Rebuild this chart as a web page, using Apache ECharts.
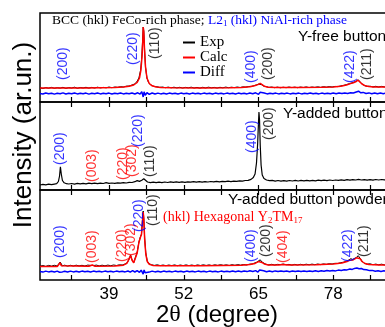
<!DOCTYPE html>
<html>
<head>
<meta charset="utf-8">
<script src="https://cdn.jsdelivr.net/npm/echarts@6.0.0/dist/echarts.min.js"></script>
<style>html,body{margin:0;background:#fff}#chart{width:385px;height:327px}</style>
</head>
<body>
<div id="chart"></div>
<script>
// 2-theta axis
const thetaMin = 27, thetaMax = 91;
const tickValues = [32.5, 39, 45.5, 52, 58.5, 65, 71.5, 78, 84.5, 91];
const tickLabels = [39, 52, 65, 78, 91];

// panel 1: Y-free button (Rietveld fit)
const p1Exp = [[27,14.2],[27.5,13.5],[28,14.4],[28.5,13.8],[29,14.6],[29.5,13.7],[30,14.3],[30.5,13.9],[31,14.7],[31.5,13.6],[32,14.4],[32.5,14.0],[33,14.8],[33.5,13.7],[34,14.5],[34.5,14.1],[35,14.7],[35.5,13.9],[36,14.6],[36.5,14.0],[37,14.8],[37.5,14.1],[38,14.6],[38.5,14.2],[39,15.0],[39.5,14.3],[40,15.0],[40.5,14.6],[41,15.3],[41.5,15.0],[42,15.8],[42.5,16.0],[43,17.0],[43.4,17.9],[43.8,19.8],[44.2,24],[44.5,32],[44.7,45],[44.85,62],[44.95,75],[45.05,71],[45.2,51],[45.35,35],[45.6,24],[45.9,19],[46.3,17],[46.8,15.6],[47.3,15.3],[47.8,14.6],[48.3,15.0],[48.8,14.3],[49.3,14.9],[49.8,14.2],[50.3,14.8],[50.8,14.1],[51.3,14.7],[51.8,14.0],[52.3,14.6],[52.8,14.2],[53.3,14.8],[53.8,14.0],[54.3,14.6],[54.8,13.9],[55.3,14.7],[55.8,14.1],[56.3,14.8],[56.8,14.2],[57.3,14.6],[57.8,14.0],[58.3,14.7],[58.8,14.2],[59.3,14.9],[59.8,14.3],[60.3,14.8],[60.8,14.4],[61.3,15.0],[61.8,14.5],[62.3,15.1],[62.8,14.9],[63.3,15.5],[63.8,15.6],[64.2,16.3],[64.6,17.0],[65.0,17.9],[65.3,18.8],[65.55,17.3],[65.9,15.9],[66.3,15.4],[66.8,14.6],[67.3,15.0],[67.8,14.3],[68.3,14.9],[68.8,14.2],[69.3,14.8],[69.8,14.3],[70.3,15.0],[70.8,14.4],[71.3,14.9],[71.8,14.3],[72.3,15.0],[72.8,14.5],[73.3,15.1],[73.8,14.4],[74.3,15.0],[74.8,14.6],[75.3,15.2],[75.8,14.6],[76.3,15.3],[76.8,14.8],[77.3,15.4],[77.8,15.0],[78.3,15.6],[78.8,15.4],[79.3,16.1],[79.8,16.6],[80.3,17.4],[80.8,18.3],[81.2,19.1],[81.6,19.7],[82.0,20.9],[82.35,22.2],[82.65,20.4],[83.0,18.0],[83.4,16.6],[83.9,15.6],[84.4,15.8],[84.9,15.1],[85.4,15.7],[85.9,15.0],[86.4,15.6],[86.9,15.1],[87.4,15.8],[87.9,15.0],[88.4,15.6],[88.9,15.2],[89.4,15.7],[89.9,15.0],[90.4,15.5],[91,15.2]];
const p1Calc = [[27,14],[30,14],[35,14.1],[40,14.4],[41.5,15],[42.5,15.8],[43.3,17],[43.9,19.5],[44.3,24],[44.55,32],[44.75,46],[44.88,62],[44.96,75],[45.05,70],[45.18,52],[45.35,35],[45.6,24],[46,18.5],[46.5,16.2],[47.2,15],[48,14.5],[50,14.2],[55,14.1],[60,14.3],[62,14.6],[63.5,15.3],[64.3,16.2],[64.9,17.4],[65.3,18.6],[65.6,17.2],[66,15.8],[66.7,14.8],[68,14.4],[72,14.5],[76,14.8],[78,15.1],[79.3,15.8],[80.3,17],[81,18.4],[81.5,19.3],[81.9,20.2],[82.3,21.8],[82.6,20.6],[83,18],[83.5,16.3],[84.2,15.4],[85,15.1],[88,15],[91,15]];
const p1Diff = [[27,8.6],[27.5,8.0],[28,9.0],[28.5,8.2],[29,8.8],[29.5,7.9],[30,8.7],[30.5,8.3],[31,9.1],[31.5,8.0],[32,8.7],[32.5,8.2],[33,9.0],[33.5,8.1],[34,8.8],[34.5,8.3],[35,8.9],[35.5,7.9],[36,8.7],[36.5,8.2],[37,9.0],[37.5,8.1],[38,8.8],[38.5,8.3],[39,8.9],[39.5,8.0],[40,8.8],[40.5,8.2],[41,9.0],[41.5,8.1],[42,8.8],[42.5,8.2],[43,9.0],[43.5,8.0],[44,9.2],[44.4,7.8],[44.7,10.4],[44.85,11.5],[44.95,5.0],[45.1,10.2],[45.3,6.8],[45.6,9.3],[46,7.6],[46.5,9.0],[47,8.0],[47.5,8.9],[48,8.1],[48.5,8.8],[49,8.0],[49.5,8.9],[50,8.2],[50.5,8.8],[51,8.0],[51.5,8.9],[52,8.2],[52.5,8.7],[53,8.0],[53.5,8.9],[54,8.2],[54.5,8.8],[55,8.1],[55.5,8.9],[56,8.2],[56.5,8.8],[57,8.0],[57.5,8.9],[58,8.3],[58.5,8.8],[59,8.1],[59.5,8.9],[60,8.2],[60.5,8.7],[61,8.0],[61.5,8.9],[62,8.2],[62.5,8.8],[63,8.1],[63.5,9.0],[64,8.3],[64.5,9.2],[65,7.7],[65.3,9.8],[65.6,8.0],[66,9.0],[66.5,8.1],[67,8.8],[67.5,8.2],[68,8.9],[68.5,8.1],[69,8.8],[69.5,8.3],[70,8.9],[70.5,8.1],[71,8.8],[71.5,8.2],[72,8.9],[72.5,8.1],[73,8.8],[73.5,8.3],[74,8.9],[74.5,8.2],[75,8.8],[75.5,8.1],[76,8.9],[76.5,8.3],[77,8.8],[77.5,8.2],[78,9.0],[78.5,8.3],[79,8.9],[79.5,8.4],[80,9.1],[80.5,8.6],[81,9.3],[81.5,9.0],[82,10.0],[82.4,10.8],[82.8,9.2],[83.2,9.6],[83.7,8.5],[84.2,9.1],[84.7,8.3],[85.2,9.0],[85.7,8.2],[86.2,8.9],[86.7,8.3],[87.2,9.0],[87.7,8.2],[88.2,8.8],[88.7,8.3],[89.2,9.0],[89.7,8.2],[90.2,8.8],[91,8.4]];

// panel 2: Y-added button
const p2Exp = [[27,5.0],[27.5,5.6],[28,5.2],[28.5,5.8],[29,5.3],[29.5,5.9],[29.9,6.3],[30.2,8.5],[30.4,14],[30.55,23.3],[30.7,16],[30.9,9.5],[31.2,7.2],[31.6,6.3],[32,6.0],[32.5,6.5],[33,5.9],[33.5,6.6],[34,6.1],[34.5,6.7],[35,6.2],[35.5,6.8],[36,6.3],[36.5,6.9],[37,6.4],[37.5,6.9],[38,6.5],[38.5,7.3],[39,6.7],[39.5,7.0],[40,6.6],[40.5,7.2],[41,6.8],[41.5,7.4],[42,7.0],[42.5,7.6],[43,7.5],[43.5,8.3],[43.9,9.4],[44.3,8.6],[44.7,9.7],[45.05,11.2],[45.35,9.4],[45.7,8.0],[46.2,7.4],[46.7,7.9],[47.2,7.3],[47.7,7.9],[48.2,7.4],[48.7,8.0],[49.2,7.5],[49.7,8.1],[50.2,7.6],[50.7,8.1],[51.2,7.6],[51.7,8.2],[52.2,7.7],[52.7,8.2],[53.2,7.8],[53.7,8.3],[54.2,7.8],[54.7,8.4],[55.2,7.9],[55.7,8.4],[56.2,8.0],[56.7,8.5],[57.2,8.1],[57.7,8.6],[58.2,8.2],[58.7,8.7],[59.2,8.3],[59.7,8.8],[60.2,8.4],[60.7,8.9],[61.2,8.6],[61.7,9.1],[62.2,8.8],[62.7,9.5],[63.2,9.6],[63.7,10.6],[64.1,12.5],[64.4,16],[64.65,27],[64.85,46],[65.0,68],[65.08,78],[65.18,70],[65.3,45],[65.45,25],[65.65,15],[65.95,11.5],[66.4,10.0],[66.9,9.3],[67.4,9.6],[67.9,8.9],[68.4,9.5],[68.9,8.9],[69.4,9.4],[69.9,8.9],[70.4,9.5],[70.9,9.0],[71.4,9.6],[71.9,9.0],[72.4,9.6],[72.9,9.1],[73.4,9.7],[73.9,9.2],[74.4,9.7],[74.9,9.2],[75.4,9.8],[75.9,9.3],[76.4,9.9],[76.9,9.4],[77.4,10.0],[77.9,9.5],[78.4,10.0],[78.9,9.6],[79.4,10.2],[79.9,9.7],[80.4,10.3],[80.9,9.8],[81.4,10.4],[81.9,10.0],[82.4,10.6],[82.9,10.0],[83.4,10.4],[83.9,9.9],[84.4,10.4],[84.9,9.9],[85.4,10.5],[85.9,10.0],[86.4,10.5],[86.9,10.1],[87.4,10.6],[87.9,10.1],[88.4,10.6],[88.9,10.2],[89.4,10.7],[89.9,10.2],[90.4,10.7],[91,10.3]];

// panel 3: Y-added button powder (Rietveld fit)
const p3Exp = [[27,13.8],[27.5,14.5],[28,13.6],[28.5,14.6],[29,13.9],[29.5,14.7],[30,14.0],[30.3,15.2],[30.5,18.0],[30.65,16.0],[30.9,14.2],[31.3,14.8],[31.8,13.9],[32.3,14.7],[32.8,14.0],[33.3,14.8],[33.8,14.1],[34.3,14.7],[34.8,14.0],[35.3,14.9],[35.8,14.6],[36.1,16.0],[36.4,14.5],[36.8,14.9],[37.3,14.1],[37.8,14.8],[38.3,14.2],[38.8,14.9],[39.3,14.3],[39.8,15.0],[40.3,14.5],[40.8,15.2],[41.3,15.0],[41.8,16.0],[42.2,17.5],[42.5,21],[42.75,25],[43.0,20],[43.3,17.5],[43.6,19],[43.9,28],[44.2,38],[44.45,43],[44.65,46],[44.8,58],[44.95,69],[45.05,62],[45.2,42],[45.4,27],[45.65,19],[45.95,16.3],[46.4,15.2],[46.9,14.6],[47.4,15.2],[47.9,14.4],[48.4,15.0],[48.9,14.3],[49.4,15.0],[49.9,14.4],[50.4,15.1],[50.9,14.3],[51.4,15.0],[51.9,14.4],[52.4,15.1],[52.9,14.4],[53.4,15.0],[53.9,14.3],[54.4,15.1],[54.9,14.5],[55.4,15.2],[55.9,14.5],[56.4,15.1],[56.9,14.4],[57.4,15.2],[57.9,14.6],[58.4,15.3],[58.9,14.6],[59.4,15.2],[59.9,14.5],[60.4,15.3],[60.9,14.7],[61.4,15.4],[61.9,14.8],[62.4,15.5],[62.9,15.0],[63.4,15.8],[63.9,16.0],[64.3,17.0],[64.7,17.8],[65.0,19.0],[65.3,20.2],[65.6,18.0],[65.9,16.5],[66.3,15.7],[66.8,15.1],[67.3,15.7],[67.8,15.0],[68.3,15.6],[68.8,15.4],[69.3,16.0],[69.8,15.2],[70.3,15.6],[70.8,14.9],[71.3,15.6],[71.8,15.0],[72.3,15.7],[72.8,15.1],[73.3,15.8],[73.8,15.2],[74.3,15.9],[74.8,15.3],[75.3,16.0],[75.8,15.4],[76.3,16.1],[76.8,15.6],[77.3,16.3],[77.8,16.0],[78.3,16.7],[78.8,16.5],[79.3,17.3],[79.8,17.8],[80.3,18.8],[80.7,20.0],[81.05,21.3],[81.4,20.5],[81.7,20.8],[82.0,22.5],[82.35,24.3],[82.7,21.5],[83.0,18.8],[83.4,16.8],[83.9,15.8],[84.4,16.2],[84.9,15.3],[85.4,15.9],[85.9,15.2],[86.4,15.8],[86.9,15.1],[87.4,15.7],[87.9,15.1],[88.4,15.8],[88.9,15.2],[89.4,15.7],[89.9,15.1],[90.4,15.6],[91,15.2]];
const p3Calc = [[27,13.4],[30,13.5],[30.3,14.2],[30.5,17.3],[30.7,14.3],[31,13.6],[35.5,13.7],[36.1,15.0],[36.5,13.8],[40,14.0],[41.5,14.8],[42.1,16.6],[42.45,20.5],[42.75,24.5],[43.0,20.0],[43.3,17.2],[43.6,18.8],[43.9,27],[44.2,37.5],[44.45,42.5],[44.65,45.5],[44.8,57],[44.95,68],[45.05,61],[45.2,41],[45.4,26],[45.65,18.5],[46,15.8],[46.6,14.6],[48,14.2],[55,14.3],[62,14.7],[63.5,15.4],[64.4,16.6],[65,18.4],[65.3,19.6],[65.6,17.6],[66,16],[66.7,15],[68.5,15],[69.3,15.6],[70.2,14.9],[75,15.2],[78,15.9],[79.5,17],[80.4,18.5],[80.8,19.7],[81.1,20.8],[81.45,20.1],[81.75,20.5],[82.05,22.2],[82.35,23.8],[82.7,21.2],[83.0,18.5],[83.5,16.5],[84.2,15.5],[86,15.1],[91,15.0]];
const p3Diff = [[27,8.5],[27.5,7.9],[28,8.9],[28.5,8.1],[29,8.8],[29.5,8.0],[30,8.9],[30.4,7.8],[30.6,9.6],[30.9,8.1],[31.3,8.8],[31.8,8.0],[32.3,8.9],[32.8,8.1],[33.3,8.8],[33.8,8.0],[34.3,8.9],[34.8,8.2],[35.3,8.8],[35.8,8.0],[36.3,8.9],[36.8,8.2],[37.3,8.8],[37.8,8.1],[38.3,8.9],[38.8,8.2],[39.3,8.8],[39.8,8.1],[40.3,8.9],[40.8,8.2],[41.3,8.8],[41.8,8.1],[42.3,9.0],[42.7,7.9],[43.1,9.3],[43.5,8.0],[43.9,9.4],[44.3,7.7],[44.6,9.8],[44.85,11.2],[44.95,5.8],[45.1,10.0],[45.3,7.2],[45.6,9.2],[46,7.9],[46.5,8.9],[47,8.1],[47.5,8.8],[48,8.0],[48.5,8.9],[49,8.2],[49.5,8.8],[50,8.1],[50.5,8.9],[51,8.2],[51.5,8.8],[52,8.0],[52.5,8.9],[53,8.2],[53.5,8.8],[54,8.1],[54.5,8.9],[55,8.2],[55.5,8.8],[56,8.1],[56.5,8.9],[57,8.2],[57.5,8.8],[58,8.1],[58.5,8.9],[59,8.2],[59.5,8.8],[60,8.2],[60.5,9.0],[61,8.3],[61.5,8.9],[62,8.3],[62.5,9.0],[63,8.4],[63.5,9.2],[64,8.5],[64.5,9.4],[64.9,7.9],[65.2,10.0],[65.5,8.1],[65.9,9.2],[66.4,8.3],[66.9,9.0],[67.4,8.3],[67.9,9.1],[68.4,8.4],[68.9,9.1],[69.4,8.4],[69.9,9.0],[70.4,8.3],[70.9,9.0],[71.4,8.4],[71.9,9.1],[72.4,8.4],[72.9,9.0],[73.4,8.5],[73.9,9.1],[74.4,8.5],[74.9,9.2],[75.4,8.6],[75.9,9.3],[76.4,8.7],[76.9,9.4],[77.4,8.9],[77.9,9.6],[78.4,9.1],[78.9,9.9],[79.4,9.5],[79.9,10.3],[80.4,10.1],[80.9,11.0],[81.3,10.6],[81.7,11.6],[82.1,12.0],[82.5,11.2],[82.9,11.5],[83.3,10.4],[83.8,10.2],[84.3,9.4],[84.8,9.6],[85.3,8.8],[85.8,9.3],[86.3,8.6],[86.8,9.2],[87.3,8.5],[87.8,9.1],[88.3,8.4],[88.8,9.0],[89.3,8.4],[89.8,9.0],[90.3,8.4],[91,8.8]];

// peak indices: [2theta, level where the label starts, text, phase]
const p1Peaks = [[31.1,22,'(200)','L21'],[43.2,37,'(220)','L21'],[47.0,43,'(110)','BCC'],[63.7,19,'(400)','L21'],[66.7,22,'(200)','BCC'],[81.0,19,'(422)','L21'],[83.9,22,'(211)','BCC']];
const p2Peaks = [[30.57,25,'(200)','L21'],[36.14,8,'(003)','hex'],[41.45,10,'(220)','hex'],[43.1,13,'(302)','hex'],[44.15,43,'(220)','L21'],[46.15,13,'(110)','BCC'],[63.9,37,'(400)','L21'],[66.87,50,'(200)','BCC']];
const p3Peaks = [[30.48,22,'(200)','L21'],[36.05,17,'(003)','hex'],[41.28,18,'(220)','hex'],[42.84,24,'(302)','hex'],[44.24,48,'(220)','L21'],[46.67,54,'(110)','BCC'],[63.73,18,'(400)','L21'],[66.35,23,'(200)','BCC'],[69.3,17,'(404)','hex'],[80.6,18,'(422)','L21'],[83.4,23,'(211)','BCC']];

const phaseColor = { L21: '#0000ff', BCC: '#000000', hex: '#ff0000' };
const SANS = 'Liberation Sans', SERIF = 'Liberation Serif';

const panels = [
  { top: 13, height: 89 },
  { top: 102, height: 88 },
  { top: 190, height: 90 }
];

const chart = echarts.init(document.getElementById('chart'), null, { renderer: 'canvas' });

const grids = panels.map(p => ({ left: 40, top: p.top, width: 368, height: p.height, outerBoundsMode: 'none', containLabel: false, show: true, borderColor: '#000', borderWidth: 1.5, backgroundColor: 'transparent' }));

const xAxisBase = (gridIndex, position, labels) => ({
  type: 'value', gridIndex, position, min: thetaMin, max: thetaMax,
  axisLine: { show: false }, splitLine: { show: false },
  axisTick: { show: true, inside: true, length: 5, customValues: tickValues, lineStyle: { color: '#000', width: 1.2 } },
  axisLabel: labels ? { show: true, customValues: tickLabels, color: '#000', fontSize: 17, fontFamily: SANS, margin: 6 } : { show: false }
});

const xAxes = [xAxisBase(0, 'bottom', false), xAxisBase(1, 'bottom', false), xAxisBase(2, 'bottom', true), xAxisBase(1, 'top', false), xAxisBase(2, 'top', false)];
const yAxes = panels.map((p, i) => ({ type: 'value', gridIndex: i, min: 0, max: p.height, show: false }));

const line = (name, data, gi, color, width) => ({
  name, type: 'line', data, xAxisIndex: gi, yAxisIndex: gi, symbol: 'none', silent: true,
  lineStyle: { color, width }, itemStyle: { color }
});

const peakLabels = (peaks, gi) => ({
  type: 'scatter', xAxisIndex: gi, yAxisIndex: gi, symbolSize: 0, silent: true, z: 5,
  data: peaks.map(d => ({ value: [d[0], d[1], d[2]], label: { color: phaseColor[d[3]] } })),
  label: { show: true, position: 'inside', rotate: 90, align: 'left', verticalAlign: 'middle', fontSize: 14, fontFamily: SANS, formatter: p => p.value[2] }
});

chart.setOption({
  animation: false,
  backgroundColor: '#fff',
  grid: grids,
  xAxis: xAxes,
  yAxis: yAxes,
  legend: {
    data: ['Exp', 'Calc', 'Diff'], orient: 'vertical', left: 178, top: 30, icon: 'rect',
    itemWidth: 12, itemHeight: 2, itemGap: 0,
    textStyle: { fontFamily: SERIF, fontSize: 15, lineHeight: 15, color: '#000' }
  },
  series: [
    line('Exp', p1Exp, 0, '#000', 1),
    line('Calc', p1Calc, 0, '#ff0000', 1.5),
    line('Diff', p1Diff, 0, '#0000ff', 1.5),
    line('Exp', p2Exp, 1, '#000', 1.2),
    line('Exp', p3Exp, 2, '#000', 1),
    line('Calc', p3Calc, 2, '#ff0000', 1.5),
    line('Diff', p3Diff, 2, '#0000ff', 1.5),
    peakLabels(p1Peaks, 0),
    peakLabels(p2Peaks, 1),
    peakLabels(p3Peaks, 2)
  ],
  graphic: [
    { type: 'text', x: 52, y: 20, style: {
      text: '{k|BCC (hkl) FeCo-rich phase; }{b|L2}{s|1}{b| (hkl) NiAl-rich phase}',
      verticalAlign: 'middle',
      rich: {
        k: { fontFamily: SERIF, fontSize: 13.5, fill: '#000', lineHeight: 16 },
        b: { fontFamily: SERIF, fontSize: 13.5, fill: '#0000ff', lineHeight: 16 },
        s: { fontFamily: SERIF, fontSize: 9, fill: '#0000ff', lineHeight: 9, verticalAlign: 'bottom' }
      } } },
    { type: 'text', x: 298, y: 37, style: { text: 'Y-free button', fontFamily: SANS, fontSize: 15.5, fill: '#000', verticalAlign: 'middle' } },
    { type: 'text', x: 283, y: 114, style: { text: 'Y-added button', fontFamily: SANS, fontSize: 15.5, fill: '#000', verticalAlign: 'middle' } },
    { type: 'text', x: 228, y: 200, style: { text: 'Y-added button powder', fontFamily: SANS, fontSize: 15.5, fill: '#000', verticalAlign: 'middle' } },
    { type: 'text', x: 163, y: 217, style: {
      text: '{r|(hkl) Hexagonal Y}{s|2}{r|TM}{s|17}',
      verticalAlign: 'middle',
      rich: {
        r: { fontFamily: SERIF, fontSize: 14, fill: '#ff0000', lineHeight: 16 },
        s: { fontFamily: SERIF, fontSize: 9, fill: '#ff0000', lineHeight: 9, verticalAlign: 'bottom' }
      } } },
    { type: 'text', x: 217, y: 315, style: {
      text: '{a|2}{t|θ}{a| (degree)}', align: 'center', verticalAlign: 'middle',
      rich: { a: { fontFamily: SANS, fontSize: 24, fill: '#000' }, t: { fontFamily: SERIF, fontSize: 24, fill: '#000' } } } },
    { type: 'text', x: 24, y: 135, rotation: Math.PI / 2, style: { text: 'Intensity (ar.un.)', fontFamily: SANS, fontSize: 26, fill: '#000', align: 'center', verticalAlign: 'middle' } }
  ]
});
</script>
</body>
</html>
